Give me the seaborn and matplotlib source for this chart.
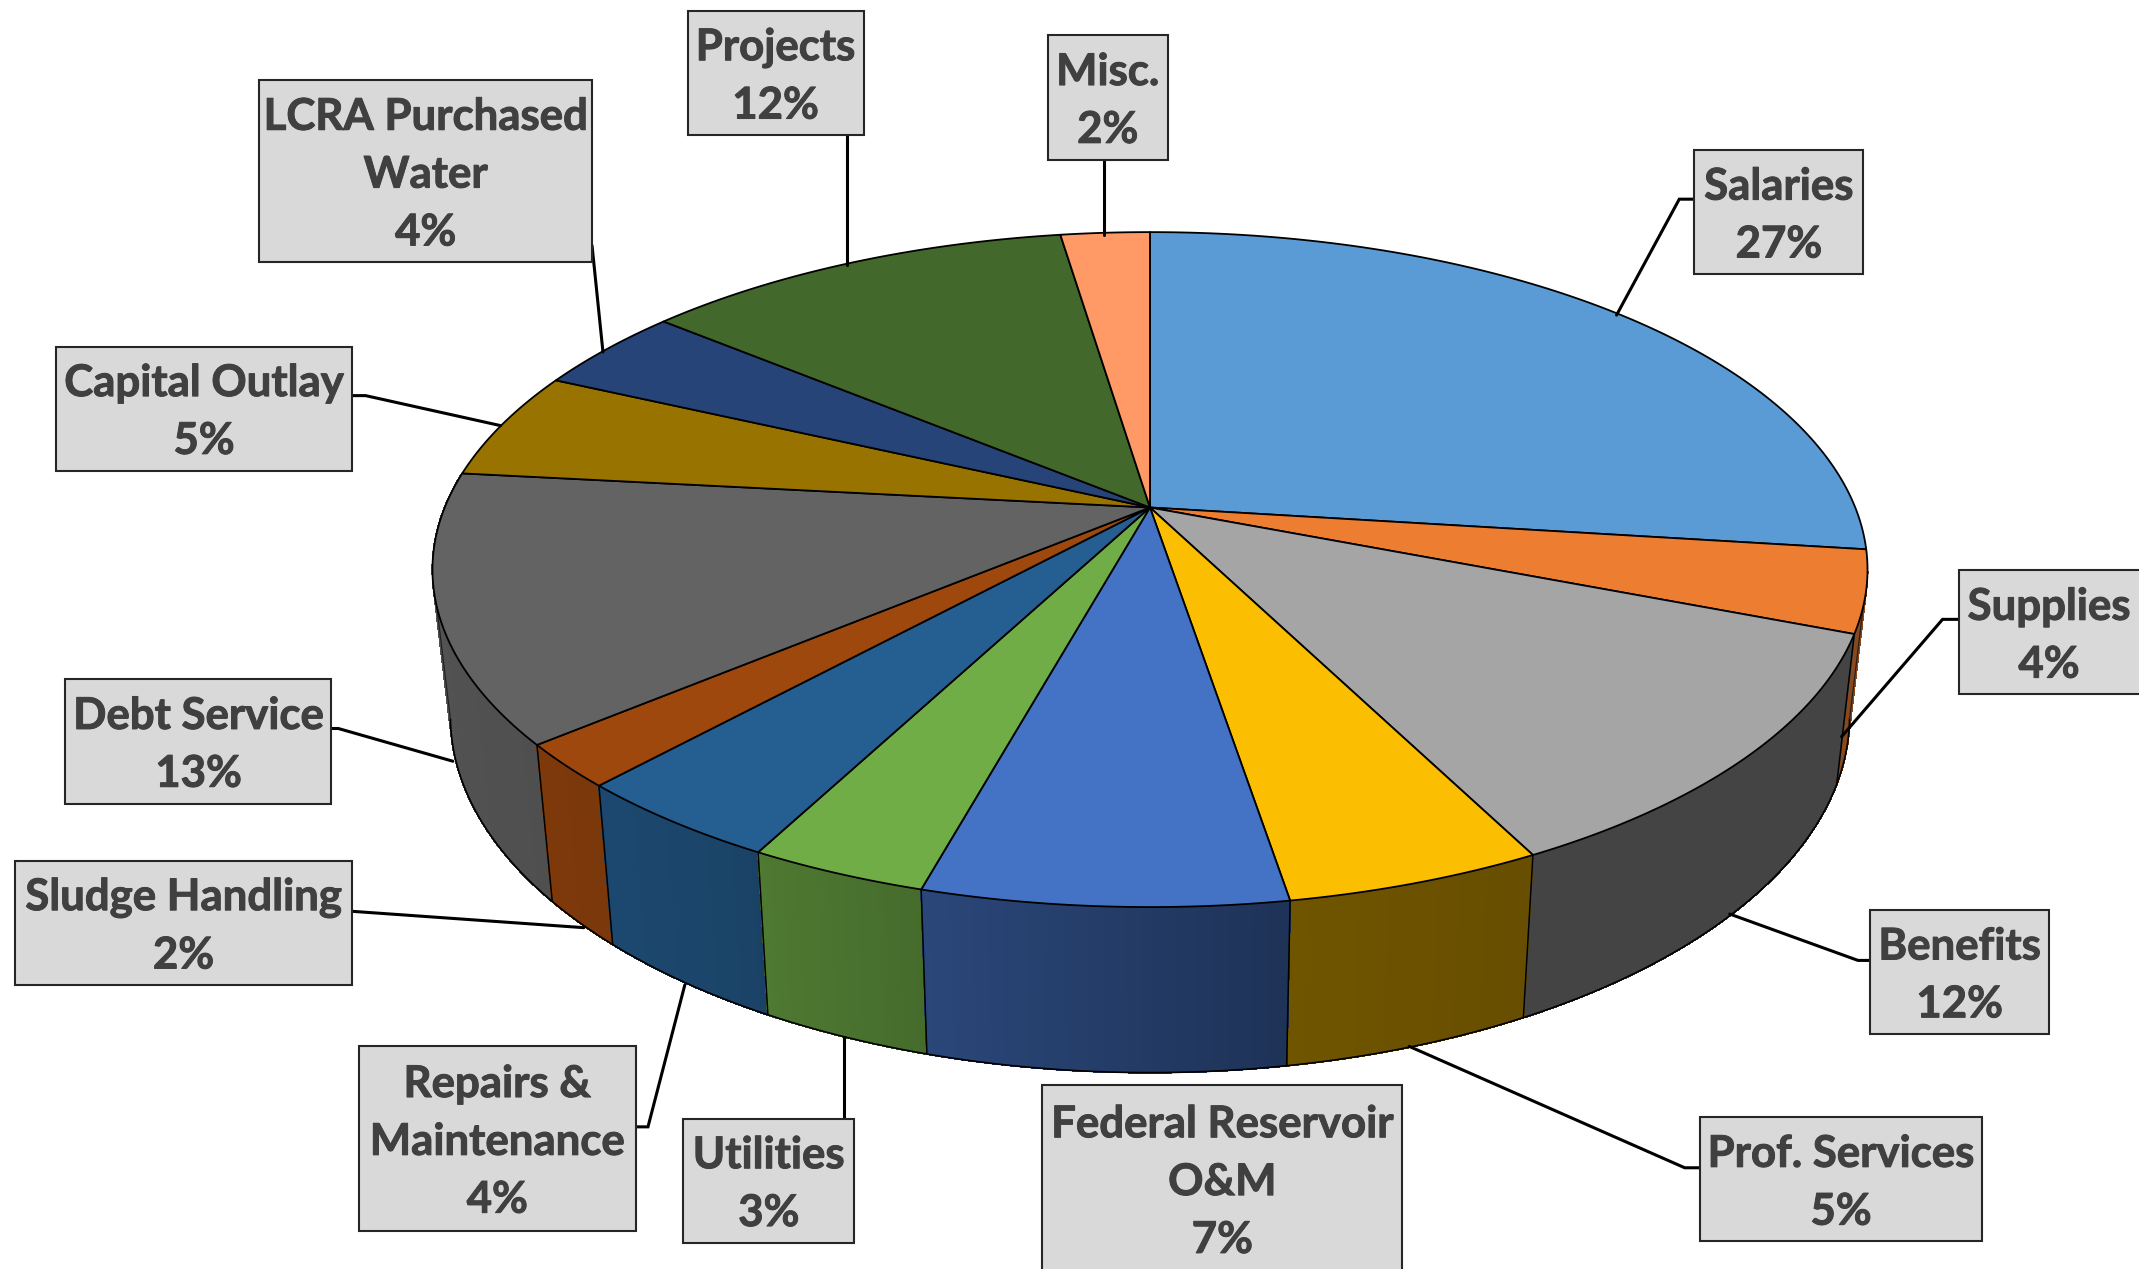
import numpy as np
import pandas as pd
import matplotlib
matplotlib.use("Agg")
import matplotlib.pyplot as plt
import matplotlib.patheffects as pe
import seaborn as sns

sns.set_theme(style="white")
plt.rcParams["font.family"] = ["Lato", "DejaVu Sans"]

# --- data ---
names = ["Salaries", "Supplies", "Benefits", "Prof. Services", "Federal Reservoir\nO&M",
         "Utilities", "Repairs &\nMaintenance", "Sludge Handling", "Debt Service",
         "Capital Outlay", "LCRA Purchased\nWater", "Projects", "Misc."]
shares = [27.0, 3.9, 11.6, 4.9, 6.9, 3.4, 4.1, 2.1, 12.8, 5.2, 4.1, 11.6, 2.4]
colors = ["#5b9bd5", "#ed7d31", "#a5a5a5", "#fbbe00", "#4472c4", "#70ad47", "#255e91",
          "#9e480e", "#636363", "#997300", "#264478", "#43682b", "#ff9966"]

# --- layout, in the 1568 wide units of the shrunk picture ---
boxes = [(1242, 110, 1366, 201), (1436, 418, 1580, 509), (1371, 667, 1502, 758),
         (1246, 819, 1453, 910), (764, 795, 1028, 950), (501, 820, 626, 911),
         (263, 767, 466, 902), (11, 631, 258, 722), (48, 498, 243, 589),
         (41, 254, 258, 345), (190, 59, 434, 192), (504, 8, 633, 99), (768, 26, 856, 117)]
leaders = [[(1242, 146), (1231, 146), (1185, 231)],
           [(1436, 454), (1424, 454), (1350, 540)],
           [(1371, 704), (1362, 704), (1268, 670)],
           [(1246, 856), (1235, 856), (1033, 767)],
           None,
           [(619, 820), (619, 760)],
           [(466, 826), (475, 826), (502, 722)],
           [(258, 668), (428, 680)],
           [(243, 534), (248, 534), (332, 558)],
           [(258, 290), (268, 290), (367, 312)],
           [(434, 180), (442, 258)],
           [(621, 99), (621, 194)],
           [(809, 117), (809, 172)]]

CX, CY = 843, 372
A, B, K = 517, 239, 0.184   # perspective of the pie top
SHRINK, DROP = 0.975, 105   # bottom rim
RIGHT_EDGE, LEFT_EDGE = 101, 259   # where the wall turns out of sight


def project(theta, bottom=False):
    t = np.radians(theta)
    x, y = np.sin(t), np.cos(t)
    w = 1 + K * y
    s = SHRINK if bottom else 1
    d = DROP if bottom else 0
    return CX + s * A * x / w, CY - s * B * y / w + d / w


def wall_shade(theta):
    return np.interp(theta, [100, 111, 112, 154, 172, 195, 210, 230, 276],
                     [0.58, 0.58, 0.41, 0.41, 0.45, 0.62, 0.72, 0.8, 0.86])


df = pd.DataFrame({"name": names, "share": shares, "color": sns.color_palette(colors)})
df["end"] = df["share"].cumsum() / df["share"].sum() * 360
df["start"] = df["end"] - df["share"] / df["share"].sum() * 360

fig = plt.figure(figsize=(21.39, 12.69), dpi=100)
ax = fig.add_axes([0, 0, 1, 1])
ax.set_xlim(0, 1568)
ax.set_ylim(930.2, 0)
ax.axis("off")

# side wall, back to front
strips = []
for _, row in df.iterrows():
    lo, hi = max(row["start"], RIGHT_EDGE), min(row["end"], 276)
    if hi <= lo:
        continue
    edges = np.linspace(lo, hi, max(int(hi - lo) * 2, 2) + 1)
    for t0, t1 in zip(edges[:-1], edges[1:]):
        strips.append((t0, t1, row["color"]))
strips.sort(key=lambda s: -np.cos(np.radians((s[0] + s[1]) / 2)))
for t0, t1, c in strips:
    xt, yt = project(np.array([t0, t1]))
    xb, yb = project(np.array([t1, t0]), bottom=True)
    shade = wall_shade((t0 + t1) / 2)
    fc = tuple(v * shade for v in c)
    ax.fill(np.r_[xt, xb], np.r_[yt, yb], color=fc, lw=0.8, antialiased=False, zorder=1)

# wall outlines
arc = np.linspace(RIGHT_EDGE, LEFT_EDGE, 300)
ax.plot(*project(arc, bottom=True), color="black", lw=1.2, zorder=2)
for edge in (RIGHT_EDGE, LEFT_EDGE):
    ax.plot(*zip(project(edge), project(edge, bottom=True)), color="#222222", lw=0.9, zorder=2)
for theta in df["end"]:
    if 105 < theta < 235:
        ax.plot(*zip(project(theta), project(theta, bottom=True)), color="black", lw=1.1, zorder=2)

# top face
for _, row in df.iterrows():
    x, y = project(np.linspace(row["start"], row["end"], 120))
    ax.fill(np.r_[CX, x], np.r_[CY, y], facecolor=row["color"], edgecolor="black",
            lw=1.3, joinstyle="round", zorder=3)

# leaders and labels
for i, row in df.iterrows():
    if leaders[i] is not None:
        ax.plot(*zip(*leaders[i]), color="black", lw=2.2, zorder=4, solid_joinstyle="miter")
    x0, y0, x1, y1 = boxes[i]
    ax.fill([x0, x1, x1, x0], [y0, y0, y1, y1], facecolor="#d9d9d9", edgecolor="#262626",
            lw=1.5, zorder=5)
    tx = (x0 + x1) / 2 if x1 <= 1568 else 1502
    ty = (y0 + y1) / 2 if y1 <= 930 else 864
    ax.text(tx, ty + 2.5, f"{row['name']}\n{row['share']:.0f}%", ha="center", va="center",
            color="#404040", fontsize=31.5, fontweight="bold", linespacing=1.54, zorder=6,
            path_effects=[pe.withStroke(linewidth=0.7, foreground="#404040")])

plt.savefig("out.png", dpi=100)
plt.close()
